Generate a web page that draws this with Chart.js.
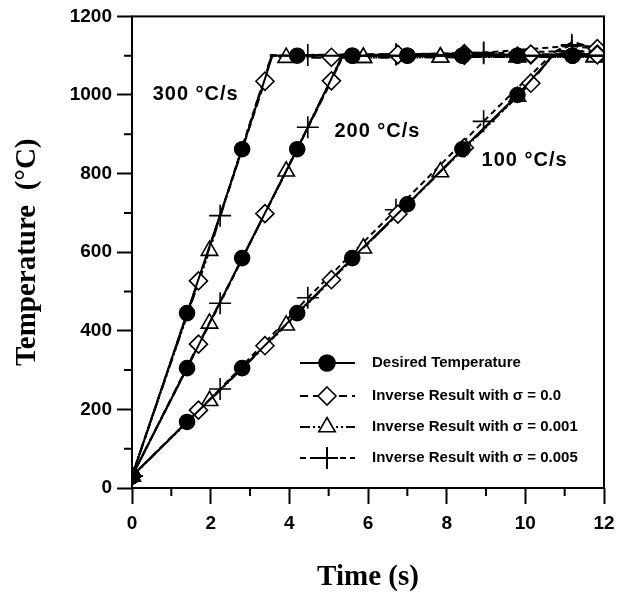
<!DOCTYPE html>
<html>
<head>
<meta charset="utf-8">
<script src="https://cdn.jsdelivr.net/npm/chart.js@4.4.0/dist/chart.umd.min.js"></script>
<style>
  html, body { margin: 0; padding: 0; background: #fff; }
</style>
</head>
<body>
<canvas id="chart" width="628" height="595"></canvas>
<script>
// time (s), temperature (degC). "marks" carry a symbol, "knots" are plain line vertices
const desired300 = [[0, 30], [1.4, 445], [2.8, 862], [4.2, 1100], [5.6, 1100], [7.0, 1100], [8.4, 1100], [9.8, 1100], [11.2, 1100]];
const desired300Knots = [[3.57, 1100], [12, 1100]];
const desired200 = [[0, 30], [1.4, 305], [2.8, 585], [4.2, 862], [5.6, 1100], [7.0, 1100], [8.4, 1100], [9.8, 1100], [11.2, 1100]];
const desired200Knots = [[5.35, 1100], [12, 1100]];
const desired100 = [[0, 30], [1.4, 168], [2.8, 305], [4.2, 445], [5.6, 585], [7.0, 722], [8.4, 862], [9.8, 1000], [11.2, 1100]];
const desired100Knots = [[10.7, 1100], [12, 1100]];

// inverse result, sigma = 0.0
const sig0_300 = [[0, 30], [1.69, 527], [3.38, 1035], [5.07, 1096], [6.76, 1103], [8.45, 1101], [10.14, 1104], [11.83, 1102]];
const sig0_300Knots = [[3.53, 1102], [12, 1103]];
const sig0_200 = [[0, 30], [1.69, 366], [3.38, 698], [5.07, 1036], [6.76, 1103], [8.45, 1105], [10.14, 1102], [11.83, 1104]];
const sig0_200Knots = [[5.36, 1103], [12, 1104]];
const sig0_100 = [[0, 30], [1.69, 198], [3.38, 362], [5.07, 530], [6.76, 697], [8.45, 866], [10.14, 1030], [11.83, 1118]];
const sig0_100Knots = [[10.75, 1110], [11.2, 1135], [11.6, 1124], [12, 1118]];

// inverse result, sigma = 0.001
const sig1_300 = [[0, 30], [1.97, 604], [3.92, 1095], [5.88, 1095], [7.84, 1096], [9.8, 1097], [11.76, 1097]];
const sig1_300Knots = [[3.55, 1100], [12, 1100]];
const sig1_200 = [[0, 30], [1.97, 419], [3.92, 806], [5.88, 1095], [7.84, 1096], [9.8, 1097], [11.76, 1097]];
const sig1_200Knots = [[5.35, 1100], [12, 1100]];
const sig1_100 = [[0, 30], [1.97, 222], [3.92, 414], [5.88, 610], [7.84, 804], [9.8, 996], [11.76, 1098]];
const sig1_100Knots = [[10.72, 1102], [11.2, 1112], [12, 1106]];

// inverse result, sigma = 0.005
const sig5_300 = [[0, 30], [2.24, 693], [4.47, 1102], [6.71, 1104], [8.94, 1106], [11.18, 1112]];
const sig5_300Knots = [[3.55, 1100], [12, 1108]];
const sig5_200 = [[0, 30], [2.24, 470], [4.47, 918], [6.71, 1103], [8.94, 1108], [11.18, 1125]];
const sig5_200Knots = [[5.38, 1101], [12, 1115]];
const sig5_100 = [[0, 30], [2.24, 252], [4.47, 484], [6.71, 708], [8.94, 933], [11.18, 1128]];
const sig5_100Knots = [[10.7, 1106], [12, 1120]];

const rateLabels = ["300 \u00b0C/s", "200 \u00b0C/s", "100 \u00b0C/s"];
const legendLabels = [
  "Desired Temperature",
  "Inverse Result with \u03c3 = 0.0",
  "Inverse Result with \u03c3 = 0.001",
  "Inverse Result with \u03c3 = 0.005",
];

function toPoints(marks, knots) {
  return marks.map(([x, y]) => ({ x, y, m: true }))
    .concat(knots.map(([x, y]) => ({ x, y, m: false })))
    .sort((a, b) => a.x - b.x);
}

// one look per legend entry
const looks = [
  { pointStyle: "circle", radius: 7.5, fill: "#000", dash: [] },
  { pointStyle: "rectRot", radius: 9, fill: "#fff", dash: [8, 5] },
  { pointStyle: "triangle", radius: 9.5, fill: "#fff", dash: [10, 3, 2, 3, 2, 3] },
  { pointStyle: "cross", radius: 11, fill: "#fff", dash: [6, 4] },
];

const groups = [
  [[desired300, desired300Knots], [desired200, desired200Knots], [desired100, desired100Knots]],
  [[sig0_300, sig0_300Knots], [sig0_200, sig0_200Knots], [sig0_100, sig0_100Knots]],
  [[sig1_300, sig1_300Knots], [sig1_200, sig1_200Knots], [sig1_100, sig1_100Knots]],
  [[sig5_300, sig5_300Knots], [sig5_200, sig5_200Knots], [sig5_100, sig5_100Knots]],
];

const datasets = [];
groups.forEach((group, g) => {
  const look = looks[g];
  group.forEach(([marks, knots]) => {
    datasets.push({
      label: legendLabels[g],
      data: toPoints(marks, knots),
      borderColor: "#000",
      borderWidth: 2,
      borderDash: look.dash,
      backgroundColor: look.fill,
      pointStyle: look.pointStyle,
      pointRadius: (c) => (c.raw && c.raw.m ? look.radius : 0),
      pointBorderWidth: 1.6,
      pointBorderColor: "#000",
      pointBackgroundColor: look.fill,
      tension: 0,
      fill: false,
    });
  });
});

function marker(ctx, look, x, y, r) {
  ctx.save();
  ctx.setLineDash([]);
  ctx.lineWidth = 1.6;
  ctx.strokeStyle = "#000";
  ctx.fillStyle = look.fill;
  ctx.beginPath();
  if (look.pointStyle === "circle") {
    ctx.arc(x, y, r, 0, Math.PI * 2);
    ctx.fill();
    ctx.stroke();
  } else if (look.pointStyle === "rectRot") {
    ctx.moveTo(x, y - r); ctx.lineTo(x + r, y); ctx.lineTo(x, y + r); ctx.lineTo(x - r, y);
    ctx.closePath(); ctx.fill(); ctx.stroke();
  } else if (look.pointStyle === "triangle") {
    ctx.moveTo(x, y - r);
    ctx.lineTo(x + r * 0.866, y + r * 0.5);
    ctx.lineTo(x - r * 0.866, y + r * 0.5);
    ctx.closePath(); ctx.fill(); ctx.stroke();
  } else {
    ctx.lineWidth = 2;
    ctx.moveTo(x - r, y); ctx.lineTo(x + r, y);
    ctx.moveTo(x, y - r); ctx.lineTo(x, y + r);
    ctx.stroke();
  }
  ctx.restore();
}

const extras = {
  id: "extras",
  afterDraw(chart) {
    const { ctx, chartArea: a } = chart;
    const xs = chart.scales.x, ys = chart.scales.y;
    ctx.save();
    ctx.strokeStyle = "#000";
    ctx.lineWidth = 2;
    ctx.strokeRect(a.left, a.top, a.right - a.left, a.bottom - a.top);

    // minor ticks
    ctx.beginPath();
    for (let v = 100; v < 1200; v += 200) {
      const py = ys.getPixelForValue(v);
      ctx.moveTo(a.left - 8, py); ctx.lineTo(a.left, py);
    }
    for (let v = 1; v < 12; v += 2) {
      const px = xs.getPixelForValue(v);
      ctx.moveTo(px, a.bottom); ctx.lineTo(px, a.bottom + 8);
    }
    ctx.stroke();

    // rate labels
    ctx.fillStyle = "#000";
    ctx.font = "bold 20px 'Liberation Sans', Arial, sans-serif";
    ctx.letterSpacing = "1px";
    ctx.textAlign = "center";
    ctx.textBaseline = "middle";
    const spots = [[1.62, 1001], [6.24, 908], [9.98, 834]];
    rateLabels.forEach((t, i) => {
      ctx.fillText(t, xs.getPixelForValue(spots[i][0]), ys.getPixelForValue(spots[i][1]));
    });
    ctx.letterSpacing = "0px";

    // legend
    const rows = [363, 396, 427, 458];
    ctx.font = "bold 15px 'Liberation Sans', Arial, sans-serif";
    ctx.textAlign = "left";
    legendLabels.forEach((t, i) => {
      const look = looks[i];
      ctx.save();
      ctx.lineWidth = 2;
      ctx.setLineDash(look.dash);
      ctx.beginPath();
      ctx.moveTo(300, rows[i]); ctx.lineTo(355, rows[i]);
      ctx.stroke();
      ctx.restore();
      marker(ctx, look, 327, rows[i], i === 0 ? 8 : look.radius);
      ctx.fillText(t, 372, rows[i]);
    });
    ctx.restore();
  },
};

new Chart(document.getElementById("chart"), {
  type: "line",
  data: { datasets },
  plugins: [extras],
  options: {
    responsive: false,
    animation: false,
    devicePixelRatio: 1,
    layout: { padding: { left: 0, right: 24, top: 16, bottom: 0 } },
    plugins: { legend: { display: false }, tooltip: { enabled: false } },
    scales: {
      x: {
        type: "linear",
        min: 0,
        max: 12,
        afterFit: (s) => { s.height = 107; },
        border: { display: false },
        grid: { drawOnChartArea: false, tickLength: 16, tickWidth: 2, tickColor: "#000" },
        ticks: {
          stepSize: 2,
          padding: 8,
          color: "#000",
          callback: (v) => String(v),
          font: { family: "'Liberation Sans', Arial, sans-serif", size: 19, weight: "bold" },
          maxRotation: 0,
        },
        title: {
          display: true,
          text: "Time (s)",
          color: "#000",
          padding: { top: 0, bottom: 0 },
          font: { family: "'Liberation Serif', 'Times New Roman', serif", size: 29, weight: "bold" },
        },
      },
      y: {
        type: "linear",
        min: 0,
        max: 1200,
        afterFit: (s) => { s.width = 132; },
        border: { display: false },
        grid: { drawOnChartArea: false, tickLength: 15, tickWidth: 2, tickColor: "#000" },
        ticks: {
          stepSize: 200,
          padding: 5,
          color: "#000",
          callback: (v) => String(v),
          font: { family: "'Liberation Sans', Arial, sans-serif", size: 19, weight: "bold" },
        },
        title: {
          display: true,
          text: "Temperature  (\u00b0C)",
          color: "#000",
          padding: { top: 10, bottom: 0 },
          font: { family: "'Liberation Serif', 'Times New Roman', serif", size: 29, weight: "bold" },
        },
      },
    },
  },
});
</script>
</body>
</html>
